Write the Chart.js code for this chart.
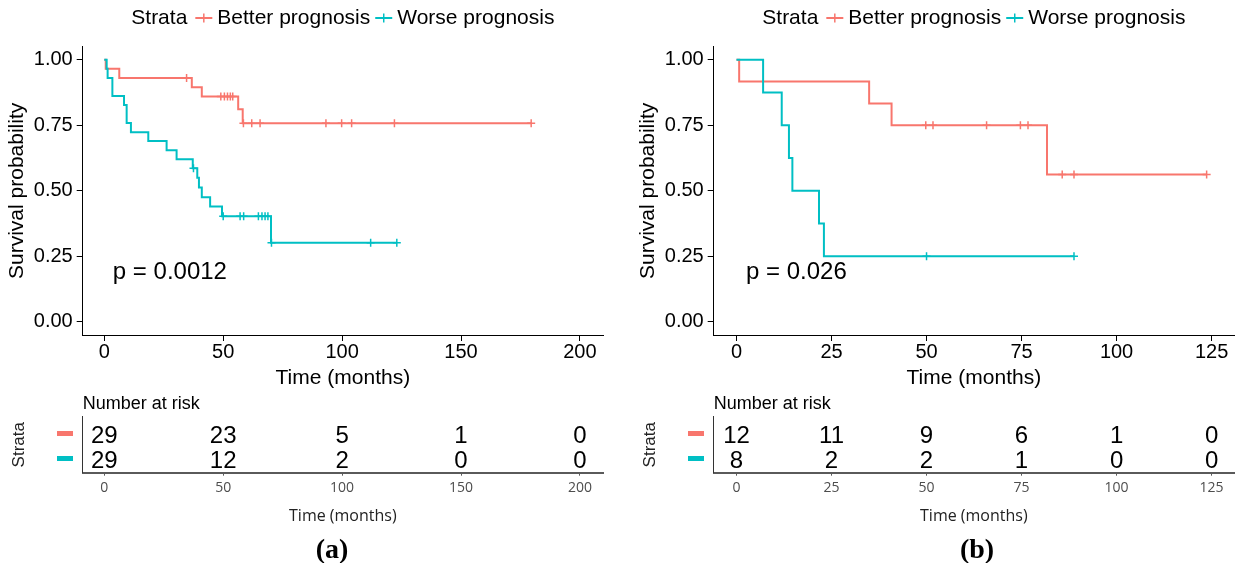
<!DOCTYPE html>
<html>
<head>
<meta charset="utf-8">
<script src="https://cdn.jsdelivr.net/npm/chart.js@4.4.0/dist/chart.umd.min.js"></script>
<style>
  html, body { margin: 0; padding: 0; background: #fff; overflow: hidden; }
  body { width: 1241px; height: 563px; position: relative; }
  canvas { position: absolute; }
  .panelLabel {
    position: absolute; width: 80px; text-align: center;
    font: bold 28px "Liberation Serif", "Times New Roman", serif; color: #000;
  }
</style>
</head>
<body>
<canvas id="kmA" width="620" height="395" style="left:0;top:0"></canvas>
<canvas id="riskA" width="620" height="168" style="left:0;top:395px"></canvas>
<canvas id="kmB" width="620" height="395" style="left:631px;top:0"></canvas>
<canvas id="riskB" width="620" height="168" style="left:631px;top:395px"></canvas>
<div class="panelLabel" style="left:292px;top:533px">(a)</div>
<div class="panelLabel" style="left:937px;top:533px">(b)</div>

<script>
// ---- panel (a) data ----
var betterTimeA = [0, 0.6, 6.3, 36.8, 41.0, 56.3, 58.2, 179.5];
var betterSurvA = [1, 0.966, 0.931, 0.895, 0.860, 0.811, 0.758, 0.758];
var betterCensTimeA = [34.6, 49.0, 50.5, 51.8, 53.0, 54.0, 58.5, 62.0, 65.5, 93.2, 99.8, 104.0, 122.0, 179.5];
var betterCensSurvA = [0.931, 0.860, 0.860, 0.860, 0.860, 0.860, 0.758, 0.758, 0.758, 0.758, 0.758, 0.758, 0.758, 0.758];
var worseTimeA = [0, 1.0, 1.4, 3.4, 8.3, 9.4, 11.2, 18.5, 26.2, 30.4, 37.2, 39.1, 39.8, 41.0, 44.5, 49.5, 70.1, 123.0];
var worseSurvA = [1, 0.966, 0.931, 0.862, 0.828, 0.759, 0.724, 0.690, 0.655, 0.621, 0.586, 0.550, 0.513, 0.476, 0.440, 0.403, 0.302, 0.302];
var worseCensTimeA = [37.5, 50.0, 57.1, 58.6, 64.8, 66.3, 67.6, 68.8, 70.3, 112.0, 123.0];
var worseCensSurvA = [0.586, 0.403, 0.403, 0.403, 0.403, 0.403, 0.403, 0.403, 0.302, 0.302, 0.302];
var riskTimesA = [0, 50, 100, 150, 200];
var riskBetterA = [29, 23, 5, 1, 0];
var riskWorseA = [29, 12, 2, 0, 0];

// ---- panel (b) data ----
var betterTimeB = [0, 0.7, 34.9, 40.8, 81.7, 123.7];
var betterSurvB = [1, 0.917, 0.833, 0.75, 0.5625, 0.5625];
var betterCensTimeB = [49.8, 51.7, 65.8, 74.7, 76.7, 85.7, 88.8, 123.7];
var betterCensSurvB = [0.75, 0.75, 0.75, 0.75, 0.75, 0.5625, 0.5625, 0.5625];
var worseTimeB = [0, 7.0, 11.9, 13.8, 14.7, 21.7, 23.0, 88.8];
var worseSurvB = [1, 0.875, 0.75, 0.625, 0.5, 0.375, 0.25, 0.25];
var worseCensTimeB = [50.0, 88.8];
var worseCensSurvB = [0.25, 0.25];
var riskTimesB = [0, 25, 50, 75, 100, 125];
var riskBetterB = [12, 11, 9, 6, 1, 0];
var riskWorseB = [8, 2, 2, 1, 0, 0];

var yTicks = [0, 0.25, 0.5, 0.75, 1];

var RED = "#F8766D";
var CYAN = "#00BFC4";
var FONT = '"Liberation Sans", Arial, sans-serif';
var FONT2 = '"Open Sans", "Liberation Sans", sans-serif';

function pts(xs, ys) {
  return xs.map(function (x, i) { return {x: x, y: ys[i]}; });
}

// legend on top + p-value text
var kmExtras = {
  id: "kmExtras",
  afterDraw: function (chart, args, opts) {
    var ctx = chart.ctx, area = chart.chartArea;
    ctx.save();
    ctx.font = "21px " + FONT;
    ctx.textBaseline = "middle";
    var items = [
      {text: "Strata"}, {gap: 8}, {sym: RED}, {gap: 5}, {text: "Better prognosis"},
      {gap: 5}, {sym: CYAN}, {gap: 5}, {text: "Worse prognosis"}
    ];
    var total = 0;
    items.forEach(function (it) {
      it.w = it.text ? ctx.measureText(it.text).width : (it.sym ? 17 : it.gap);
      total += it.w;
    });
    var x = (area.left + area.right) / 2 - total / 2, y = 18;
    items.forEach(function (it) {
      if (it.text) {
        ctx.fillStyle = "#000";
        ctx.textAlign = "left";
        ctx.fillText(it.text, x, y);
      } else if (it.sym) {
        ctx.strokeStyle = it.sym;
        ctx.lineWidth = 2;
        ctx.beginPath(); ctx.moveTo(x, y); ctx.lineTo(x + 17, y); ctx.stroke();
        ctx.lineWidth = 1.5;
        ctx.beginPath(); ctx.moveTo(x + 8.5, y - 4.5); ctx.lineTo(x + 8.5, y + 4.5); ctx.stroke();
      }
      x += it.w;
    });
    // p value
    ctx.font = "24px " + FONT;
    ctx.fillStyle = "#000";
    ctx.textAlign = "left";
    ctx.fillText(opts.pText, chart.scales.x.getPixelForValue(opts.pX), chart.scales.y.getPixelForValue(0.19));
    ctx.restore();
  }
};

// risk table numbers, strata dashes and header
var riskExtras = {
  id: "riskExtras",
  afterDraw: function (chart) {
    var ctx = chart.ctx, area = chart.chartArea;
    ctx.save();
    chart.data.datasets.forEach(function (ds, di) {
      var meta = chart.getDatasetMeta(di);
      ctx.font = "24px " + FONT;
      ctx.fillStyle = "#000";
      ctx.textAlign = "center";
      ctx.textBaseline = "middle";
      meta.data.forEach(function (el, i) {
        ctx.fillText(String(ds.counts[i]), el.x, el.y + 1);
      });
      var y0 = meta.data[0].y;
      ctx.fillStyle = ds.dashColor;
      ctx.fillRect(57, y0 - 4, 16, 5);
    });
    ctx.font = "18px " + FONT;
    ctx.fillStyle = "#000";
    ctx.textAlign = "left";
    ctx.textBaseline = "middle";
    ctx.fillText("Number at risk", area.left, 9);
    ctx.restore();
  }
};

function makeKm(id, d) {
  return new Chart(document.getElementById(id), {
    type: "line",
    data: {
      datasets: [
        {data: pts(d.wct, d.wcs), showLine: false, pointStyle: "cross", pointRadius: 4,
         pointBorderWidth: 1.5, pointBorderColor: CYAN, borderColor: CYAN},
        {data: pts(d.wt, d.ws), stepped: true, borderColor: CYAN, borderWidth: 2, pointRadius: 0, fill: false},
        {data: pts(d.bct, d.bcs), showLine: false, pointStyle: "cross", pointRadius: 4,
         pointBorderWidth: 1.5, pointBorderColor: RED, borderColor: RED},
        {data: pts(d.bt, d.bs), stepped: true, borderColor: RED, borderWidth: 2, pointRadius: 0, fill: false}
      ]
    },
    options: {
      responsive: false,
      animation: false,
      events: [],
      layout: {padding: {left: 0, right: 17, top: 46.7, bottom: 0}},
      plugins: {
        legend: {display: false},
        tooltip: {enabled: false},
        kmExtras: {pText: d.pText, pX: d.pX}
      },
      scales: {
        x: {
          type: "linear", min: d.xMin, max: d.xMax,
          afterFit: function (s) { s.height = 60; },
          border: {display: true, color: "#000", width: 1},
          grid: {display: true, drawOnChartArea: false, drawTicks: true, tickLength: 6, tickColor: "#000"},
          ticks: {stepSize: d.step, includeBounds: false, autoSkip: false, maxRotation: 0, padding: 1,
                  color: "#000", font: {size: 20, family: FONT, lineHeight: 1}},
          title: {display: true, text: "Time (months)", color: "#000",
                  font: {size: 21, family: FONT}, padding: {top: 0, bottom: 4.4}}
        },
        y: {
          type: "linear", min: -0.05, max: 1.05,
          afterFit: function (s) { s.width = 82.7; },
          afterBuildTicks: function (s) { s.ticks = yTicks.map(function (v) { return {value: v}; }); },
          border: {display: true, color: "#000", width: 1},
          grid: {display: true, drawOnChartArea: false, drawTicks: true, tickLength: 6, tickColor: "#000"},
          ticks: {padding: 4, color: "#000", font: {size: 20, family: FONT},
                  callback: function (v) { return v.toFixed(2); }},
          title: {display: true, text: "Survival probability", color: "#000",
                  font: {size: 21, family: FONT}, padding: {top: 4.4, bottom: 0}}
        }
      }
    },
    plugins: [kmExtras]
  });
}

function makeRisk(id, d) {
  return new Chart(document.getElementById(id), {
    type: "scatter",
    data: {
      datasets: [
        {data: d.times.map(function (t) { return {x: t, y: 1}; }), counts: d.better, dashColor: RED, pointRadius: 0},
        {data: d.times.map(function (t) { return {x: t, y: 2}; }), counts: d.worse, dashColor: CYAN, pointRadius: 0}
      ]
    },
    options: {
      responsive: false,
      animation: false,
      events: [],
      layout: {padding: {left: 0, right: 17, top: 21.7, bottom: 35.3}},
      plugins: {legend: {display: false}, tooltip: {enabled: false}},
      scales: {
        x: {
          type: "linear", min: d.xMin, max: d.xMax,
          afterFit: function (s) { s.height = 55; },
          border: {display: true, color: "#5a5a5a", width: 2},
          grid: {display: true, drawOnChartArea: false, drawTicks: true, tickLength: 3, tickColor: "#5a5a5a"},
          ticks: {stepSize: d.step, includeBounds: false, autoSkip: false, maxRotation: 0, padding: 4,
                  color: "#4d4d4d", font: {size: 14, family: FONT2}},
          title: {display: true, text: "Time (months)", color: "#222",
                  font: {size: 16, family: FONT2}, padding: {top: 0, bottom: 2}}
        },
        y: {
          type: "linear", min: 0.268, max: 2.508, reverse: true,
          afterFit: function (s) { s.width = 82.7; },
          border: {display: true, color: "#333", width: 1},
          grid: {display: false},
          ticks: {display: false},
          title: {display: true, text: "Strata", color: "#222",
                  font: {size: 17, family: FONT}, padding: {top: 9.6, bottom: 0}}
        }
      }
    },
    plugins: [riskExtras]
  });
}

makeKm("kmA", {
  bt: betterTimeA, bs: betterSurvA, bct: betterCensTimeA, bcs: betterCensSurvA,
  wt: worseTimeA, ws: worseSurvA, wct: worseCensTimeA, wcs: worseCensSurvA,
  xMin: -9.08, xMax: 209.7, step: 50, pText: "p = 0.0012", pX: 3.6
});
makeRisk("riskA", {times: riskTimesA, better: riskBetterA, worse: riskWorseA, xMin: -9.08, xMax: 209.7, step: 50});

makeKm("kmB", {
  bt: betterTimeB, bs: betterSurvB, bct: betterCensTimeB, bcs: betterCensSurvB,
  wt: worseTimeB, ws: worseSurvB, wct: worseCensTimeB, wcs: worseCensSurvB,
  xMin: -6.0, xMax: 130.9, step: 25, pText: "p = 0.026", pX: 2.5
});
makeRisk("riskB", {times: riskTimesB, better: riskBetterB, worse: riskWorseB, xMin: -6.0, xMax: 130.9, step: 25});
</script>
</body>
</html>
